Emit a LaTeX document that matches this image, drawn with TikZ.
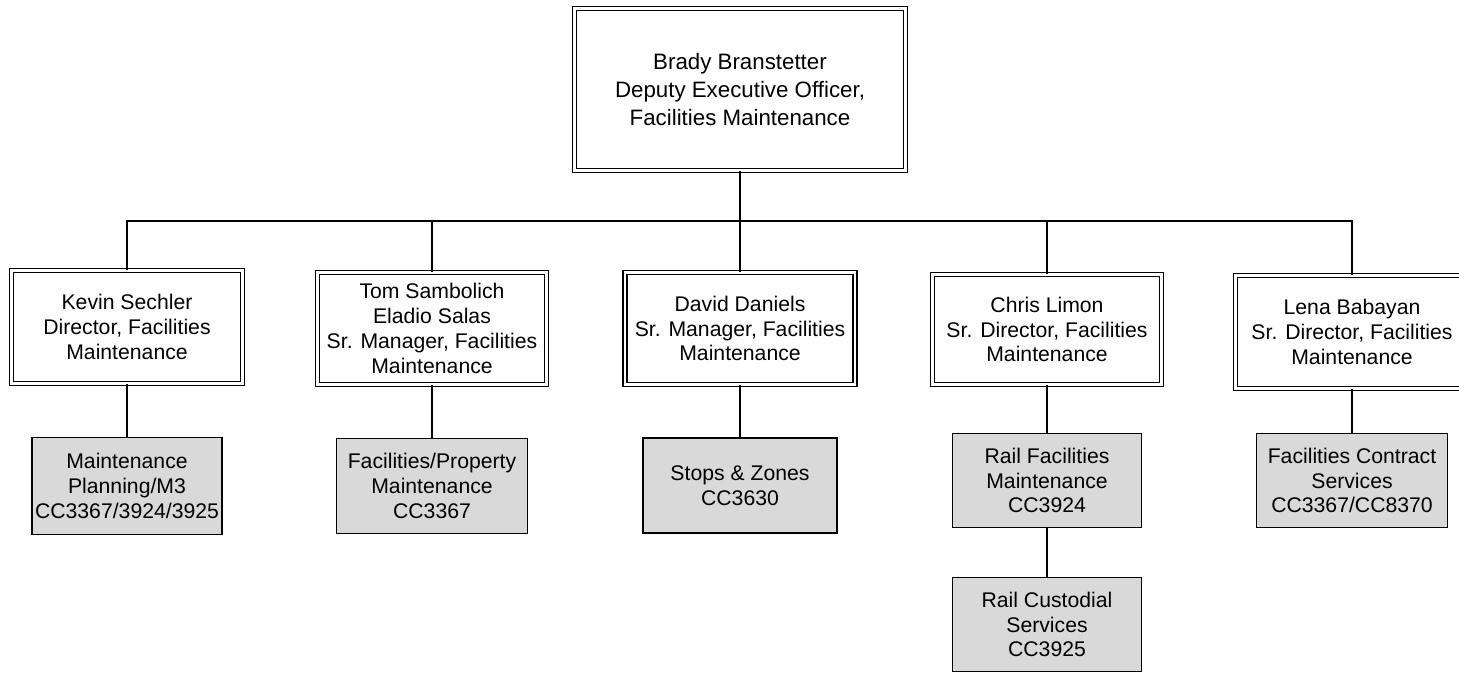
\documentclass[tikz,border=0pt]{standalone}
\usepackage{fontspec}
\setmainfont{Liberation Sans}
\definecolor{boxgray}{HTML}{D9D9D9}
\tikzset{
  head/.style={draw=black, double=white, double distance=2.4pt, line width=1.4pt,
    align=center, inner sep=0pt, font=\fontsize{22.3}{28}\selectfont},
  mgr/.style={draw=black, double=white, double distance=2.4pt, line width=1.4pt,
    align=center, inner sep=0pt, font=\fontsize{21.2}{24.8}\selectfont},
  unit/.style={draw=black, fill=boxgray, line width=1.7pt,
    align=center, inner sep=0pt, font=\fontsize{21.2}{24.8}\selectfont},
  link/.style={draw=black, line width=1.9pt}
}
\begin{document}
\begin{tikzpicture}[x=1pt,y=-1pt]
\clip (0,0) rectangle (1459,673);
\fill[white] (0,0) rectangle (1459,673);

\node[head, minimum width=331pt, minimum height=162pt] (top) at (740,89.5)
  {Brady Branstetter\\Deputy Executive Officer,\\Facilities Maintenance};

\node[mgr, minimum width=231pt, minimum height=113pt] (kevin) at (127,327)
  {Kevin Sechler\\Director, Facilities\\Maintenance};
\node[mgr, minimum width=229pt, minimum height=112pt] (tom) at (432,328.5)
  {Tom Sambolich\\Eladio Salas\\Sr. Manager, Facilities\\Maintenance};
\node[mgr, minimum width=230pt, minimum height=112pt] (david) at (740,328.5)
  {David Daniels\\Sr. Manager, Facilities\\Maintenance};
\node[mgr, minimum width=229pt, minimum height=110pt] (chris) at (1047,329.5)
  {Chris Limon\\Sr. Director, Facilities\\Maintenance};
\node[mgr, minimum width=233pt, minimum height=113pt] (lena) at (1352,332)
  {Lena Babayan\\Sr. Director, Facilities\\Maintenance};

\node[unit, minimum width=190pt, minimum height=97pt] (kevinu) at (127,486)
  {Maintenance\\Planning/M3\\CC3367/3924/3925};
\node[unit, minimum width=191pt, minimum height=95pt] (tomu) at (432,486)
  {Facilities/Property\\Maintenance\\CC3367};
\node[unit, minimum width=194pt, minimum height=95pt] (davidu) at (740,485.5)
  {Stops \& Zones\\CC3630};
\node[unit, minimum width=189pt, minimum height=94pt] (chrisu) at (1047,480.5)
  {Rail Facilities\\Maintenance\\CC3924};
\node[unit, minimum width=189pt, minimum height=94pt] (cust) at (1047,624.5)
  {Rail Custodial\\Services\\CC3925};
\node[unit, minimum width=191pt, minimum height=94pt] (lenau) at (1352,480.5)
  {Facilities Contract\\Services\\CC3367/CC8370};

\coordinate (bus) at (740,221);
\draw[link] (top.south) -- (bus);
\draw[link] (bus) -| (kevin.north);
\draw[link] (bus) -| (tom.north);
\draw[link] (bus) -- (david.north);
\draw[link] (bus) -| (chris.north);
\draw[link] (bus) -| (lena.north);

\draw[link] (kevin.south) -- (kevinu.north);
\draw[link] (tom.south) -- (tomu.north);
\draw[link] (david.south) -- (davidu.north);
\draw[link] (chris.south) -- (chrisu.north);
\draw[link] (lena.south) -- (lenau.north);
\draw[link] (chrisu.south) -- (cust.north);
\end{tikzpicture}
\end{document}
